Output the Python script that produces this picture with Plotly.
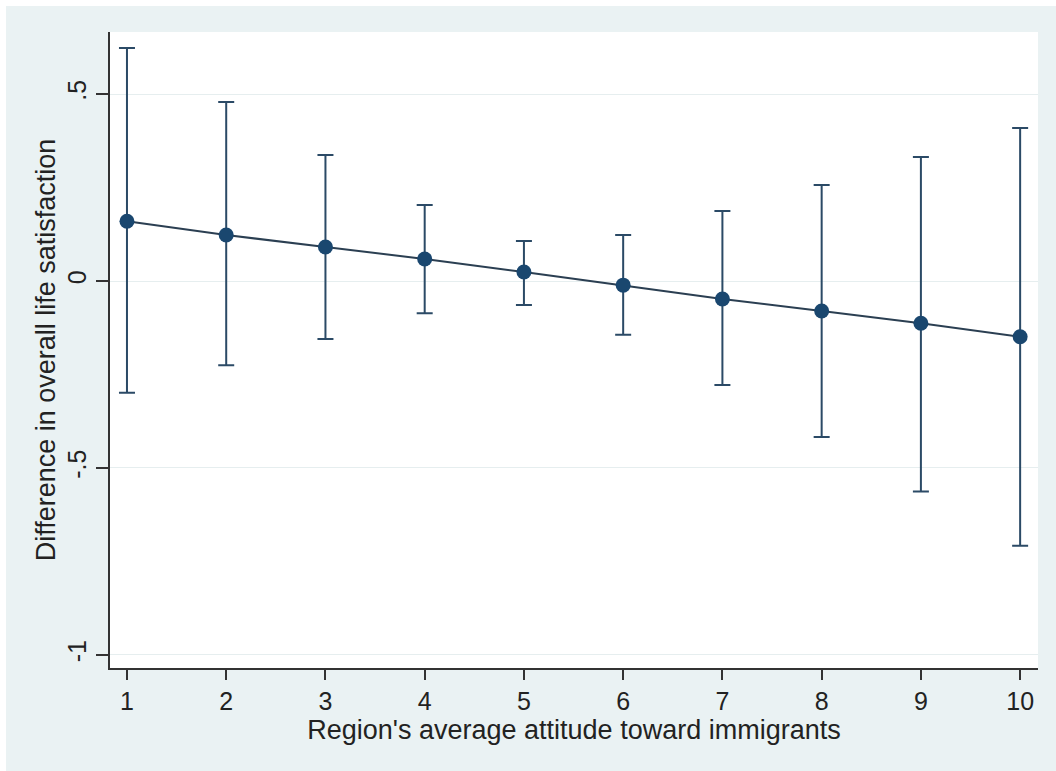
import plotly.graph_objects as go

x_vals = [1, 2, 3, 4, 5, 6, 7, 8, 9, 10]
estimate = [0.160, 0.123, 0.091, 0.059, 0.024, -0.011, -0.048, -0.080, -0.113, -0.149]
ci_upper = [0.623, 0.479, 0.337, 0.203, 0.107, 0.123, 0.187, 0.257, 0.332, 0.409]
ci_lower = [-0.299, -0.225, -0.155, -0.086, -0.064, -0.144, -0.278, -0.417, -0.563, -0.708]

y_tickvals = [0.5, 0, -0.5, -1]
y_ticktext = [".5", "0", "-.5", "-1"]

err_plus = [u - e for u, e in zip(ci_upper, estimate)]
err_minus = [e - l for e, l in zip(estimate, ci_lower)]

navy = "#1a476f"
bg = "#EAF2F3"

fig = go.Figure()
fig.add_trace(go.Scatter(
    x=x_vals, y=estimate, mode="lines+markers",
    line=dict(color="#2b3f52", width=2),
    marker=dict(color=navy, size=15),
    error_y=dict(type="data", symmetric=False, array=err_plus, arrayminus=err_minus,
                 color="#2b4a66", thickness=2, width=8),
    showlegend=False,
))

W_PLOT = 928.0
H_PLOT = 636.0
font = "Liberation Sans, Arial, sans-serif"
fig.update_layout(
    width=1056, height=771,
    paper_bgcolor=bg,
    plot_bgcolor="white",
    margin=dict(l=110, r=18, t=32, b=103),
    font=dict(family=font, color="#222222"),
    shapes=[
        dict(type="rect", xref="paper", yref="paper", layer="above",
             x0=-110 / W_PLOT, x1=-104 / W_PLOT, y0=-103 / H_PLOT, y1=1 + 32 / H_PLOT,
             fillcolor="white", line=dict(width=0)),
        dict(type="rect", xref="paper", yref="paper", layer="above",
             x0=-110 / W_PLOT, x1=1 + 18 / W_PLOT, y0=1 + 26 / H_PLOT, y1=1 + 32 / H_PLOT,
             fillcolor="white", line=dict(width=0)),
    ],
    xaxis=dict(
        range=[0.829, 10.18], tickvals=x_vals, ticks="outside", ticklen=10,
        tickwidth=1.5, tickcolor="#333333",
        showline=True, linecolor="#333333", linewidth=1.5, showgrid=False,
        zeroline=False, tickfont=dict(size=25, family=font),
        title=dict(text="Region's average attitude toward immigrants",
                   font=dict(size=27, family=font), standoff=0),
    ),
    yaxis=dict(
        range=[-1.035, 0.666], tickvals=y_tickvals, ticktext=y_ticktext,
        ticks="outside", ticklen=12, tickwidth=1.5, tickcolor="#333333",
        tickangle=-90,
        showline=True, linecolor="#333333", linewidth=1.5,
        showgrid=True, gridcolor="#e6eeef", gridwidth=1, zeroline=False,
        tickfont=dict(size=25, family=font),
        title=dict(text="Difference in overall life satisfaction",
                   font=dict(size=27, family=font), standoff=0),
    ),
)

fig.write_html("out.html")
